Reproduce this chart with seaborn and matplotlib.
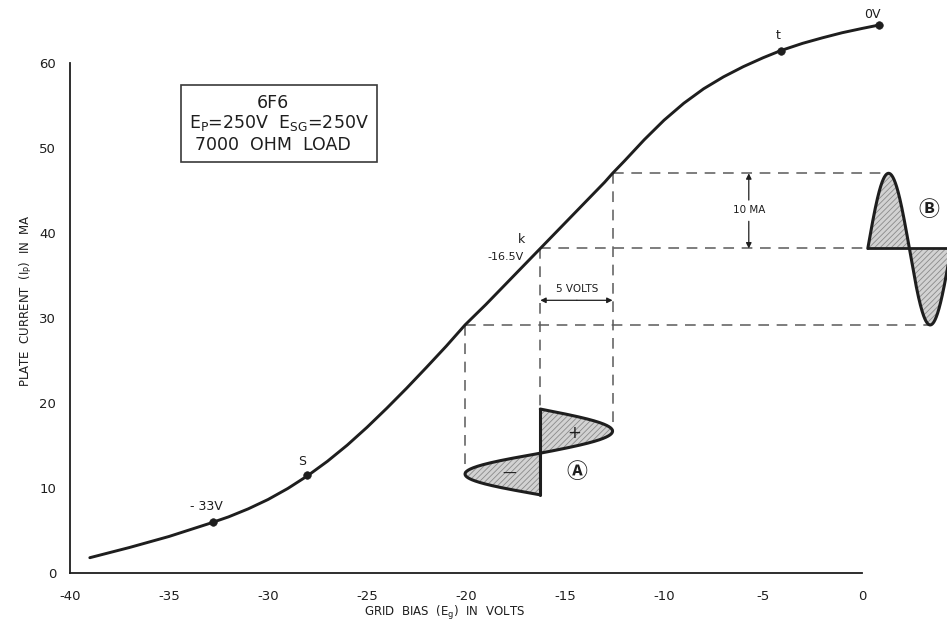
import numpy as np
import pandas as pd
import matplotlib
matplotlib.use("Agg")
import matplotlib.pyplot as plt
import seaborn as sns

# ---------------- data ----------------
grid_bias = [-39.0, -37.0, -35.0, -33.0, -32.0, -31.0, -30.0, -29.0, -28.0, -27.0,
             -26.0, -25.0, -24.0, -23.0, -22.0, -21.0, -20.05, -19.0, -18.0, -17.0,
             -16.25, -15.0, -14.0, -13.0, -12.6, -12.0, -11.0, -10.0, -9.0, -8.0,
             -7.0, -6.0, -5.0, -4.1, -3.0, -2.0, -1.0, 0.0, 0.85]
plate_ma = [1.8, 3.0, 4.3, 5.8, 6.6, 7.55, 8.65, 9.95, 11.45, 13.15,
            15.05, 17.15, 19.4, 21.75, 24.2, 26.7, 29.2, 31.6, 34.0, 36.4,
            38.2, 41.2, 43.6, 46.0, 47.05, 48.5, 51.0, 53.3, 55.3, 57.0,
            58.4, 59.6, 60.65, 61.5, 62.35, 63.0, 63.6, 64.1, 64.5]

dot_names = ["-33V", "S", "t", "0V"]
dot_bias = [-32.8, -28.05, -4.1, 0.85]
dot_ma = [5.95, 11.5, 61.5, 64.5]

# operating point and swing
bias_k = -16.25          # operating bias (k)
bias_max = -12.6         # positive grid swing peak
bias_min = -20.05        # negative grid swing peak
ip_k = 38.2              # plate current at k
ip_max = 47.05
ip_min = 29.2

# input wave (A) drawn vertically: time axis in MA units on the plot
wave_a_top = 19.3
wave_a_mid = 14.1
wave_a_bot = 9.2
# output wave (B) drawn horizontally: time axis in volt units on the plot
wave_b_start = 0.29
wave_b_period = 4.2

x_ticks = [-40, -35, -30, -25, -20, -15, -10, -5, 0]
y_ticks = [0, 10, 20, 30, 40, 50, 60]

# ---------------- figure ----------------
sns.set_theme(style="white")
plt.rcParams["font.family"] = ["DejaVu Sans", "Noto Sans CJK JP"]
plt.rcParams["axes.unicode_minus"] = False
plt.rcParams["hatch.linewidth"] = 0.6

ink = "#1e1e1e"
dash_col = "#5a5a5a"
circ_font = ["Noto Sans CJK JP", "DejaVu Sans"]

fig = plt.figure(figsize=(9.47, 6.25), dpi=100)
ax = fig.add_axes([70 / 947, 52 / 625, 877 / 947, 573 / 625])
ax.set_xlim(-40, 4.29)
ax.set_ylim(0, 67.45)

df = pd.DataFrame({"bias": grid_bias, "ma": plate_ma})
sns.lineplot(data=df, x="bias", y="ma", ax=ax, color=ink, lw=2.1,
             sort=False, estimator=None, zorder=5)
dots = pd.DataFrame({"bias": dot_bias, "ma": dot_ma})
sns.scatterplot(data=dots, x="bias", y="ma", ax=ax, color=ink, s=30,
                edgecolor=ink, zorder=6)

# dashed projection lines
dash = dict(color=dash_col, lw=1.1, linestyle=(0, (7, 5)), zorder=3)
ax.plot([bias_min, wave_b_start + 0.75 * wave_b_period], [ip_min, ip_min], **dash)
ax.plot([bias_k, wave_b_start], [ip_k, ip_k], **dash)
ax.plot([bias_max, wave_b_start + 0.25 * wave_b_period], [ip_max, ip_max], **dash)
ax.plot([bias_min, bias_min], [ip_min, (wave_a_mid + wave_a_bot) / 2], **dash)
ax.plot([bias_k, bias_k], [ip_k, wave_a_top], **dash)
ax.plot([bias_max, bias_max], [ip_max, (wave_a_top + wave_a_mid) / 2], **dash)

# input wave A (vertical sine)
t = np.linspace(0, 1, 400)
amp_a = np.where(t < 0.5, bias_max - bias_k, bias_k - bias_min)
ya = np.where(t < 0.5, wave_a_top - (wave_a_top - wave_a_mid) * 2 * t,
              wave_a_mid - (wave_a_mid - wave_a_bot) * (2 * t - 1))
xa = bias_k + amp_a * np.sin(2 * np.pi * t)
ax.fill_betweenx(ya, bias_k, xa, facecolor="#d2d2d2", hatch="//////",
                 edgecolor="#8a8a8a", linewidth=0, zorder=2)
ax.plot(xa, ya, color=ink, lw=2.2, zorder=4, solid_capstyle="round")
ax.plot([bias_k, bias_k], [wave_a_top, wave_a_bot], color=ink, lw=2.2, zorder=4)

# output wave B (horizontal sine)
xb = np.linspace(wave_b_start, 4.6, 400)
ph = np.sin(2 * np.pi * (xb - wave_b_start) / wave_b_period)
yb = ip_k + np.where(ph > 0, (ip_max - ip_k), (ip_k - ip_min)) * ph
ax.fill_between(xb, ip_k, yb, facecolor="#d2d2d2", hatch="//////",
                edgecolor="#8a8a8a", linewidth=0, zorder=2)
ax.plot(xb, yb, color=ink, lw=2.2, zorder=4)
ax.plot([wave_b_start, 4.6], [ip_k, ip_k], color=ink, lw=2.0, zorder=4)

# dimension arrows
arr = dict(arrowstyle="-|>", color=ink, lw=0.9, mutation_scale=8,
           shrinkA=0, shrinkB=0)
ax.annotate("", xy=(-5.72, ip_max), xytext=(-5.72, 43.9), arrowprops=arr)
ax.annotate("", xy=(-5.72, ip_k), xytext=(-5.72, 41.4), arrowprops=arr)
ax.text(-5.72, 42.7, "10 MA", ha="center", va="center", fontsize=7.5, color=ink)
ax.annotate("", xy=(bias_k, 32.1), xytext=(-14.4, 32.1), arrowprops=arr)
ax.annotate("", xy=(bias_max, 32.1), xytext=(-14.4, 32.1), arrowprops=arr)
ax.text(-14.4, 33.4, "5 VOLTS", ha="center", va="center", fontsize=7.5, color=ink)

# wave signs and circled letters
ax.text(-14.55, 16.5, "+", ha="center", va="center", fontsize=12, color=ink)
ax.text(-17.8, 11.7, "\u2014", ha="center", va="center", fontsize=10, color=ink)
ax.text(-14.4, 11.9, "\u24b6", ha="center", va="center", fontsize=15,
        color=ink, family=circ_font, fontweight="bold")
ax.text(3.35, 42.8, "\u24b7", ha="center", va="center", fontsize=15,
        color=ink, family=circ_font, fontweight="bold")

# point labels
ax.text(-33.1, 7.8, "- 33V", ha="center", va="center", fontsize=9, color=ink)
ax.text(-28.3, 13.1, "S", ha="center", va="center", fontsize=9, color=ink)
ax.text(-17.2, 39.3, "k", ha="center", va="center", fontsize=9, color=ink)
ax.text(-18.0, 37.2, "-16.5V", ha="center", va="center", fontsize=8, color=ink)
ax.text(-4.23, 63.3, "t", ha="center", va="center", fontsize=9, color=ink)
ax.text(0.5, 65.8, "0V", ha="center", va="center", fontsize=9, color=ink)

# tube data box
ax.add_patch(plt.Rectangle((-34.39, 48.38), 9.9, 9.07, fill=False,
                           edgecolor="#3a3a3a", lw=1.2, zorder=3))
ax.text(-29.75, 55.3, "6F6", ha="center", va="center", fontsize=12.5, color=ink)
ax.text(-29.44, 53.0, r"E$\mathregular{_P}$=250V  E$\mathregular{_{SG}}$=250V",
        ha="center", va="center", fontsize=12.5, color=ink)
ax.text(-29.77, 50.4, "7000  OHM  LOAD", ha="center", va="center",
        fontsize=12.5, color=ink)

# axes styling
for s in ["top", "right"]:
    ax.spines[s].set_visible(False)
for s in ["left", "bottom"]:
    ax.spines[s].set_color(ink)
    ax.spines[s].set_linewidth(1.3)
ax.spines["left"].set_bounds(0, 60)
ax.spines["bottom"].set_bounds(-40, 0)
ax.set_xticks(x_ticks)
ax.set_yticks(y_ticks)
ax.set_xticklabels([str(v) for v in x_ticks])
ax.set_yticklabels([str(v) for v in y_ticks])
ax.tick_params(axis="both", direction="out", length=8, width=1.2, color=ink,
               labelsize=9.5, labelcolor=ink)
ax.tick_params(axis="x", pad=4)
ax.tick_params(axis="y", pad=2)
ax.grid(False)

ax.set_xlabel(r"GRID  BIAS  (E$\mathregular{_g}$)  IN  VOLTS", fontsize=8.5,
              color=ink, va="center")
ax.xaxis.set_label_coords(0.4265, -0.07)
ax.set_ylabel(r"PLATE  CURRENT  (I$\mathregular{_P}$)  IN  MA", fontsize=8.5,
              color=ink, va="center")
ax.yaxis.set_label_coords(-0.0504, 0.476)

fig.savefig("out.png", dpi=100)
